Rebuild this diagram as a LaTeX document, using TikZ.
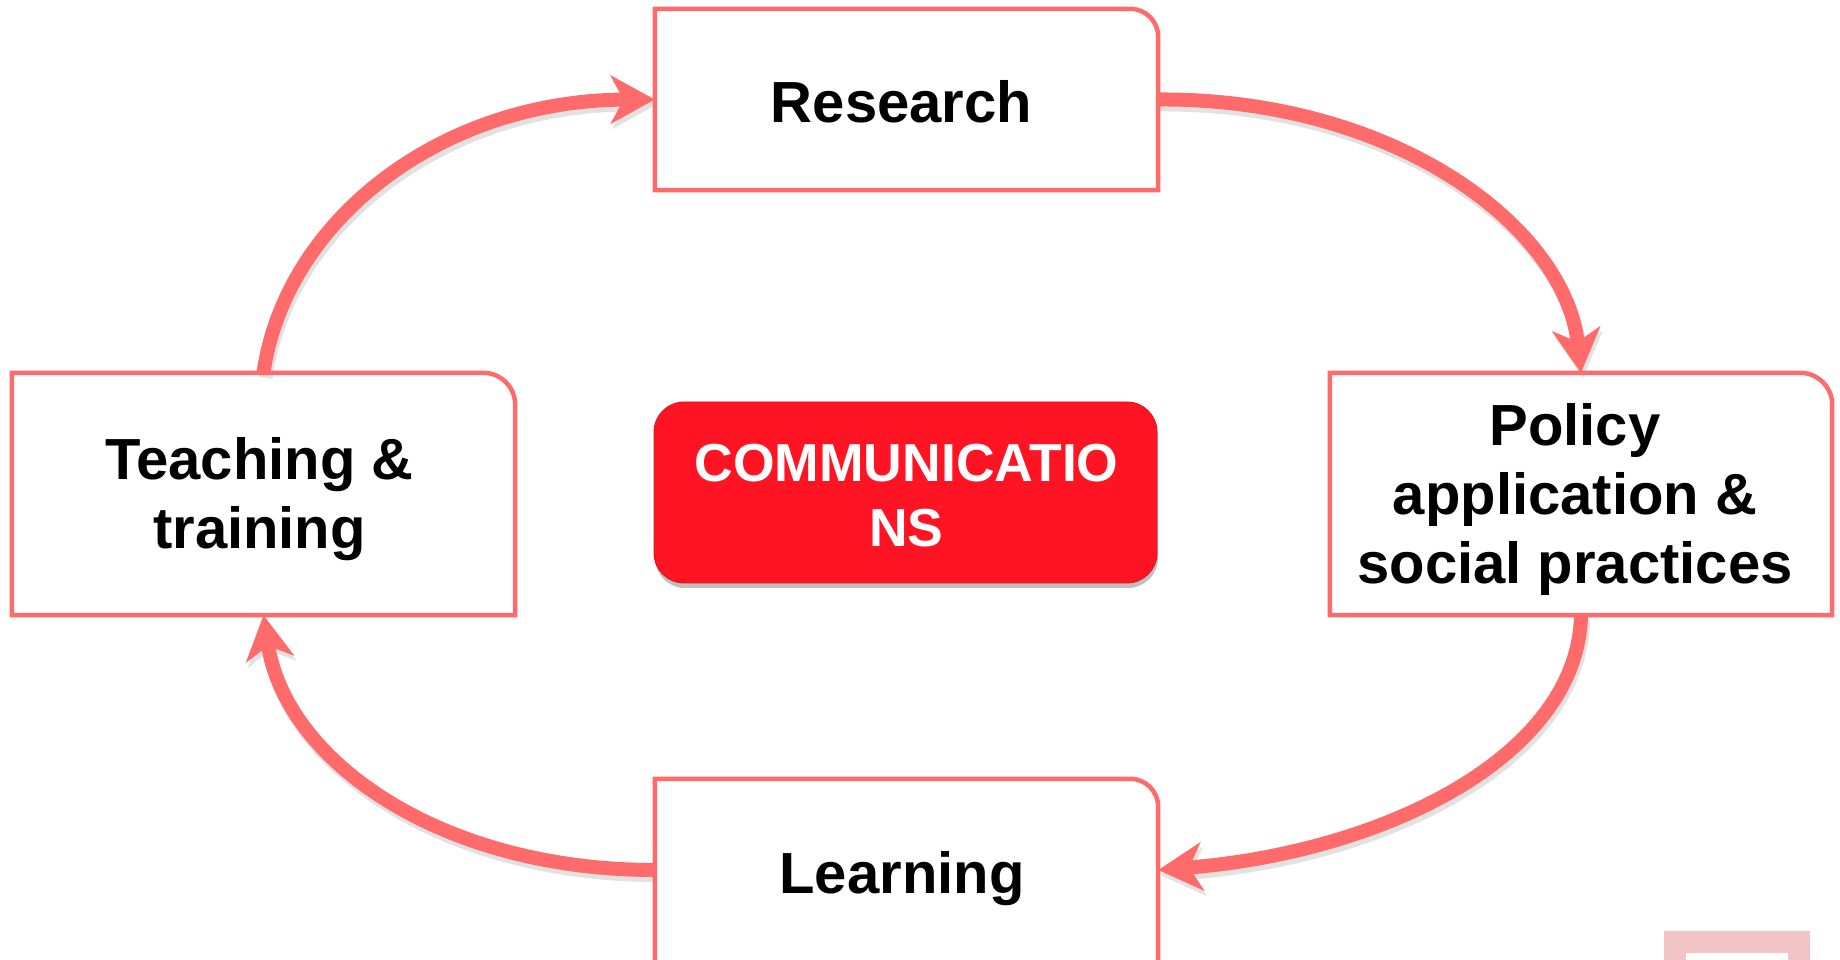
\documentclass[tikz,border=0pt]{standalone}
\usepackage{fontspec}
\setmainfont{Liberation Sans}
\usetikzlibrary{arrows.meta,shadows,calc}
\definecolor{coral}{RGB}{255,106,106}
\definecolor{commred}{RGB}{255,20,36}
\definecolor{pinkc}{RGB}{242,196,198}
\definecolor{shadowgray}{RGB}{226,226,226}
\begin{document}
\begin{tikzpicture}[x=1pt,y=1pt,
  boxnode/.style={rectangle, fill=white, inner sep=0pt, minimum width=503pt},
  border/.style={draw=coral, line width=4.5pt},
  lbl/.style={font=\bfseries\fontsize{58}{69}\selectfont, align=center, anchor=base, inner sep=0pt},
  tipstyle/.style={-{Stealth[length=44pt,width=48pt,inset=13pt]}},
  flow/.style={draw=coral, line width=14pt, tipstyle},
  flowshadow/.style={draw=shadowgray, line width=14pt, tipstyle}
]
\useasboundingbox (0,0) rectangle (1840,960);
\clip (0,0) rectangle (1840,960);
\fill[white] (0,0) rectangle (1840,960);

% boxes (fill only)
\node[boxnode, minimum height=181pt] (research) at (906.5,860.5) {};
\node[boxnode, minimum height=242pt] (teach) at (263.5,466) {};
\node[boxnode, minimum height=242pt, minimum width=502pt] (policy) at (1581,466) {};
\node[boxnode, minimum height=190pt] (learn) at (906.5,86) {};
\node[rectangle, rounded corners=30pt, fill=commred, draw=commred!85!black, line width=0.8pt,
      minimum width=503pt, minimum height=181pt,
      drop shadow={shadow xshift=1pt, shadow yshift=-5pt, fill=black, opacity=0.25}] (comm) at (905.5,467.5) {};

% arrow shadows
\begin{scope}[transform canvas={shift={(2pt,-5pt)}}]
\path[flowshadow] (teach.north) .. controls (285,738) and (439,860) .. (research.west);
\path[flowshadow] (research.east) .. controls (1392,862) and (1565,735) .. (policy.north);
\path[flowshadow] (policy.south) .. controls (1578,204) and (1385,108) .. ([yshift=4pt]learn.east);
\path[flowshadow] ([yshift=4pt]learn.west) .. controls (439,90) and (285,200) .. (teach.south);
\end{scope}

% arrows
\path[flow] (teach.north) .. controls (285,738) and (439,860) .. (research.west);
\path[flow] (research.east) .. controls (1392,862) and (1565,735) .. (policy.north);
\path[flow] (policy.south) .. controls (1578,204) and (1385,108) .. ([yshift=4pt]learn.east);
\path[flow] ([yshift=4pt]learn.west) .. controls (439,90) and (285,200) .. (teach.south);

% borders with one rounded corner
\draw[border] (research.south west) -- (research.north west) -- ([xshift=-28pt]research.north east)
  arc[start angle=90,end angle=0,radius=28pt] -- (research.south east) -- cycle;
\draw[border] (teach.south west) -- (teach.north west) -- ([xshift=-32pt]teach.north east)
  arc[start angle=90,end angle=0,radius=32pt] -- (teach.south east) -- cycle;
\draw[border] (policy.south west) -- (policy.north west) -- ([xshift=-32pt]policy.north east)
  arc[start angle=90,end angle=0,radius=32pt] -- (policy.south east) -- cycle;
\draw[border] (learn.south west) -- (learn.north west) -- ([xshift=-28pt]learn.north east)
  arc[start angle=90,end angle=0,radius=28pt] -- (learn.south east) -- cycle;

% labels (base anchor = baseline of the last line)
\node[lbl] (research-l) at ($(research.center)+(-5,-23)$) {Research};
\node[lbl] (teach-l) at ($(teach.center)+(-4,-55)$) {Teaching \&\\training};
\node[lbl] (policy-l) at ($(policy.center)+(-6,-90)$) {Policy\\application \&\\social practices};
\node[lbl] (learn-l) at (902,66) {Learning};
\node[lbl, text=white, font=\bfseries\fontsize{53.5}{65}\selectfont] (comm-l) at ($(comm.center)+(1,-54.5)$) {COMMUNICATIO\\NS};

% partial pink frame at bottom right
\fill[pinkc] (1664,-5) rectangle (1810,29);
\fill[white] (1686,-5) rectangle (1788,7);
\end{tikzpicture}
\end{document}
